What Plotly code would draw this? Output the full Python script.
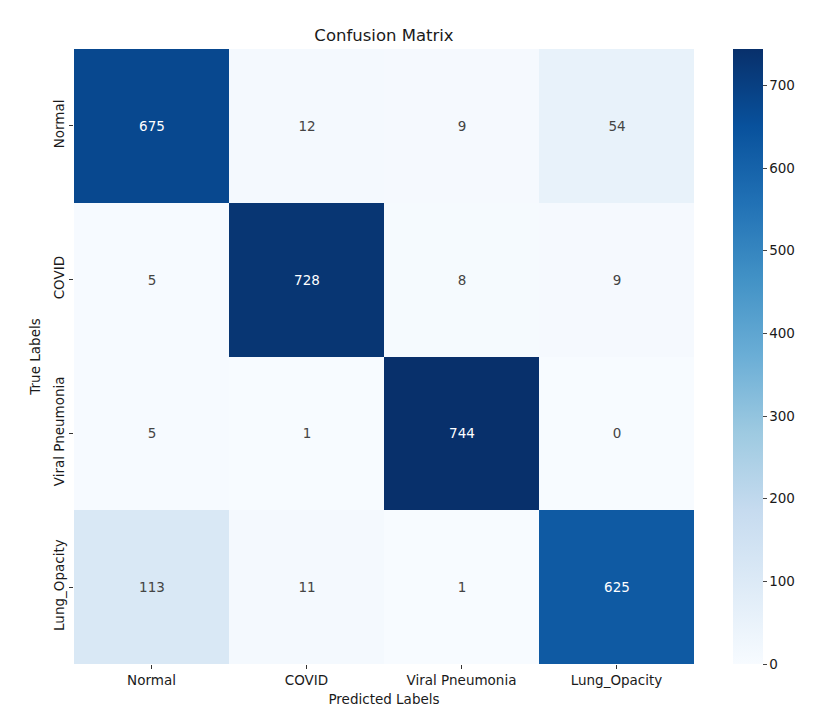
import plotly.graph_objects as go
import plotly.colors as pc

# Confusion matrix values (rows = true, cols = predicted)
labels = ["Normal", "COVID", "Viral Pneumonia", "Lung_Opacity"]
row_normal = [675, 12, 9, 54]
row_covid = [5, 728, 8, 9]
row_viral = [5, 1, 744, 0]
row_lung = [113, 11, 1, 625]
cbar_ticks = [0, 100, 200, 300, 400, 500, 600, 700]

z = [row_normal, row_covid, row_viral, row_lung]
zmax = max(max(r) for r in z)

font_family = "DejaVu Sans, Liberation Sans, sans-serif"
txt = "#1a1a1a"

heat = go.Heatmap(
    z=z,
    x=labels,
    y=labels,
    colorscale=pc.sequential.Blues,
    zmin=0,
    zmax=zmax,
    texttemplate="%{z}",
    textfont=dict(size=13.5, family=font_family),
    hovertemplate="True: %{y}<br>Predicted: %{x}<br>Count: %{z}<extra></extra>",
    colorbar=dict(
        x=1.063,
        xanchor="left",
        xpad=0,
        y=0.5,
        yanchor="middle",
        ypad=0,
        len=1,
        lenmode="fraction",
        thickness=30,
        outlinewidth=0,
        tickvals=cbar_ticks,
        ticks="outside",
        ticklen=4,
        tickfont=dict(size=13.5, family=font_family, color=txt),
    ),
)

fig = go.Figure(data=[heat])

# the page puts the plot 8px in from the top-left corner
fig.update_layout(
    width=839,
    height=728,
    margin=dict(l=66, r=153, t=41, b=72),
    paper_bgcolor="white",
    plot_bgcolor="white",
    font=dict(family=font_family, size=13.5, color=txt),
    title=dict(
        text="Confusion Matrix",
        x=(66 + 686) / 2 / 839,
        xanchor="center",
        y=1 - 27 / 728,
        yanchor="middle",
        font=dict(size=16.5, color=txt),
    ),
    xaxis=dict(
        title=dict(text="Predicted Labels", standoff=7, font=dict(size=13.5)),
        showgrid=False,
        zeroline=False,
        ticks="outside",
        ticklen=4,
        tickcolor="#333",
        tickfont=dict(size=13.5),
    ),
    yaxis=dict(
        title=dict(text="True Labels", standoff=6, font=dict(size=13.5)),
        autorange="reversed",
        showgrid=False,
        zeroline=False,
        ticks="outside",
        ticklen=4,
        tickcolor="#333",
        tickangle=-90,
        tickfont=dict(size=13.5),
    ),
)

fig.write_html("out.html")
